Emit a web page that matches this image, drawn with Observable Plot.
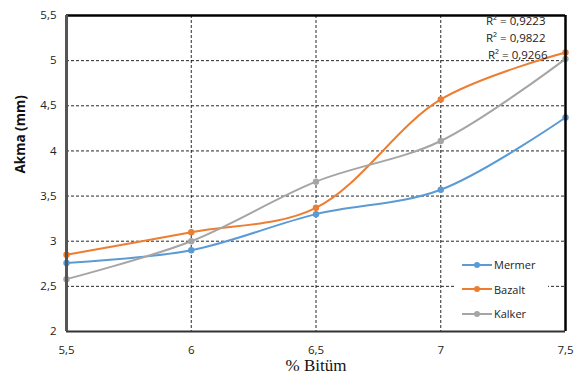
<!DOCTYPE html>
<html><head><meta charset="utf-8">
<script src="https://cdn.jsdelivr.net/npm/d3@7"></script>
<script src="https://cdn.jsdelivr.net/npm/@observablehq/plot@0.6"></script>
<style>
body{margin:0;background:#fff;}
#wrap{position:relative;width:578px;height:381px;font-family:"Open Sans",sans-serif;}
#legend{position:absolute;left:456px;top:250px;width:92px;height:78px;background:#fff;font-family:"Open Sans",sans-serif;font-size:11px;color:#222;}
#legend .it{position:absolute;left:6px;display:flex;align-items:center;}
#legend svg{margin-right:2px;}
</style></head>
<body><div id="wrap"></div>
<script>
const bitum = [5.5, 6, 6.5, 7, 7.5];
const mermer = [2.76, 2.90, 3.30, 3.57, 4.37];
const bazalt = [2.85, 3.10, 3.37, 4.57, 5.09];
const kalker = [2.58, 3.00, 3.66, 4.11, 5.02];
const seriesNames = ["Mermer", "Bazalt", "Kalker"];
const colors = ["#5B9BD5", "#ED7D31", "#A5A5A5"];
const r2Labels = ["R² = 0,9223", "R² = 0,9822", "R² = 0,9266"];
const yTicks = [2, 2.5, 3, 3.5, 4, 4.5, 5, 5.5];
const xTicks = [5.5, 6, 6.5, 7, 7.5];

const vals = [mermer, bazalt, kalker];
const data = [];
seriesNames.forEach((s, i) => bitum.forEach((x, j) => data.push({series: s, x, y: vals[i][j]})));
const fmt = d => String(d).replace(".", ",");

const r2Marks = r2Labels.map((t, i) => Plot.text([t], {text: d => d, frameAnchor: "top-right", dx: i === 2 ? -18 : -20, dy: 1 + i * 17, fontSize: 11.5, fill: "#222"}));

const plot = Plot.plot({
  width: 578, height: 381,
  marginLeft: 66, marginRight: 13, marginTop: 15, marginBottom: 50,
  style: {fontFamily: "Open Sans, sans-serif", fontSize: "11px", color: "#222", background: "#fff"},
  x: {domain: [5.5, 7.5], ticks: xTicks, tickFormat: fmt, tickSize: 0, tickPadding: 14, label: null},
  y: {domain: [2, 5.5], ticks: yTicks, tickFormat: fmt, tickSize: 0, tickPadding: 10, label: null},
  color: {domain: seriesNames, range: colors},
  marks: [
    Plot.gridY(yTicks.filter(d => d > 2 && d < 5.5), {stroke: "#000", strokeOpacity: 0.85, strokeDasharray: "3,2", strokeWidth: 1}),
    Plot.gridX(xTicks.filter(d => d > 5.5 && d < 7.5), {stroke: "#000", strokeOpacity: 0.85, strokeDasharray: "3,2", strokeWidth: 1}),
    Plot.axisX({ticks: xTicks, tickFormat: fmt, tickSize: 0, tickPadding: 14, fontSize: 11.5, fill: "#222"}),
    Plot.axisY({ticks: yTicks, tickFormat: fmt, tickSize: 0, tickPadding: 10, fontSize: 11.5, fill: "#222"}),
    Plot.line(data, {x: "x", y: "y", stroke: "series", z: "series", curve: "catmull-rom", strokeWidth: 2}),
    Plot.dot(data, {x: "x", y: "y", fill: "series", r: 3.2}),
    Plot.ruleY([5.5], {stroke: "#000", strokeWidth: 2.5}),
    Plot.ruleX([7.5], {stroke: "#000", strokeWidth: 2.5}),
    Plot.ruleY([2], {stroke: "#333", strokeWidth: 2}),
    Plot.ruleX([5.5], {stroke: "#555", strokeWidth: 3}),
    ...r2Marks,
    Plot.text(["Akma (mm)"], {text: d => d, frameAnchor: "left", dx: -46, rotate: -90, fontSize: 13.5, fontWeight: "bold", fill: "#111"}),
    Plot.text(["% Bitüm"], {text: d => d, frameAnchor: "bottom", dy: 39, fontSize: 17, fontFamily: "Liberation Serif, serif", fill: "#111"})
  ]
});
const wrap = document.getElementById("wrap");
wrap.appendChild(plot);
const leg = document.createElement("div");
leg.id = "legend";
seriesNames.forEach((s, i) => {
  const it = document.createElement("div");
  it.className = "it";
  it.style.top = (7 + i * 24.5) + "px";
  it.innerHTML = `<svg width="30" height="10"><line x1="0" y1="5" x2="30" y2="5" stroke="${colors[i]}" stroke-width="2"/><circle cx="15" cy="5" r="3" fill="${colors[i]}"/></svg><span>${s}</span>`;
  leg.appendChild(it);
});
wrap.appendChild(leg);
</script></body></html>
